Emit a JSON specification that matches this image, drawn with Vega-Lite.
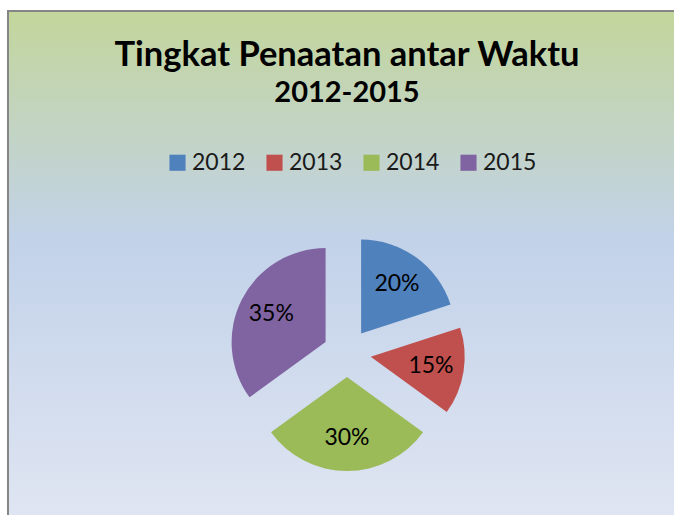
{
  "$schema": "https://vega.github.io/schema/vega-lite/v6.json",
  "width": 678,
  "height": 684,
  "padding": {"left": 8, "top": 11, "right": 0, "bottom": 0},
  "autosize": {"type": "none"},
  "background": "white",
  "title": {
    "text": "Tingkat Penaatan antar Waktu",
    "subtitle": "2012-2015",
    "anchor": "middle",
    "frame": "group",
    "offset": -99,
    "font": "Lato",
    "fontSize": 34.5,
    "fontWeight": "bold",
    "color": "#000000",
    "subtitleFont": "Lato",
    "subtitleFontSize": 29,
    "subtitleFontWeight": "bold",
    "subtitleColor": "#000000",
    "subtitlePadding": 6
  },
  "datasets": {
    "pie": [
      {"year": "2012", "pct": 20, "label": "20%"},
      {"year": "2013", "pct": 15, "label": "15%"},
      {"year": "2014", "pct": 30, "label": "30%"},
      {"year": "2015", "pct": 35, "label": "35%"}
    ],
    "bg": [{"name": "chart area"}]
  },
  "layer": [
    {
      "data": {"name": "bg"},
      "mark": {
        "type": "rect",
        "stroke": "#868686",
        "strokeWidth": 2,
        "fill": {
          "gradient": "linear",
          "x1": 0, "y1": 0, "x2": 0, "y2": 1,
          "stops": [
            {"offset": 0, "color": "#c3d69b"},
            {"offset": 0.335, "color": "#c2d2e9"},
            {"offset": 0.737, "color": "#dfe5f2"},
            {"offset": 1, "color": "#e8ecf6"}
          ]
        }
      },
      "encoding": {}
    },
    {
      "data": {"name": "pie"},
      "transform": [
        {"stack": "pct", "groupby": [], "as": ["p0", "p1"], "sort": [{"field": "year", "order": "ascending"}]},
        {"filter": "datum.year === '2012'"}
      ],
      "mark": {"type": "arc", "outerRadius": 94, "xOffset": 14.1, "yOffset": -19.4},
      "encoding": {
        "theta": {"field": "p0", "type": "quantitative", "stack": null, "scale": {"domain": [0, 100]}},
        "theta2": {"field": "p1"},
        "color": {"field": "year", "type": "nominal", "scale": {"domain": ["2012", "2013", "2014", "2015"], "range": ["#4f81bd", "#c0504d", "#9bbb59", "#8064a2"]}, "legend": {"title": null}}
      }
    },
    {
      "data": {"name": "pie"},
      "transform": [
        {"stack": "pct", "groupby": [], "as": ["p0", "p1"], "sort": [{"field": "year", "order": "ascending"}]},
        {"filter": "datum.year === '2013'"}
      ],
      "mark": {"type": "arc", "outerRadius": 94, "xOffset": 23.7, "yOffset": 3.8},
      "encoding": {
        "theta": {"field": "p0", "type": "quantitative", "stack": null, "scale": {"domain": [0, 100]}},
        "theta2": {"field": "p1"},
        "color": {"field": "year", "type": "nominal", "legend": {"title": null}}
      }
    },
    {
      "data": {"name": "pie"},
      "transform": [
        {"stack": "pct", "groupby": [], "as": ["p0", "p1"], "sort": [{"field": "year", "order": "ascending"}]},
        {"filter": "datum.year === '2014'"}
      ],
      "mark": {"type": "arc", "outerRadius": 94, "xOffset": 0, "yOffset": 24},
      "encoding": {
        "theta": {"field": "p0", "type": "quantitative", "stack": null, "scale": {"domain": [0, 100]}},
        "theta2": {"field": "p1"},
        "color": {"field": "year", "type": "nominal", "legend": {"title": null}}
      }
    },
    {
      "data": {"name": "pie"},
      "transform": [
        {"stack": "pct", "groupby": [], "as": ["p0", "p1"], "sort": [{"field": "year", "order": "ascending"}]},
        {"filter": "datum.year === '2015'"}
      ],
      "mark": {"type": "arc", "outerRadius": 94, "xOffset": -21.4, "yOffset": -10.9},
      "encoding": {
        "theta": {"field": "p0", "type": "quantitative", "stack": null, "scale": {"domain": [0, 100]}},
        "theta2": {"field": "p1"},
        "color": {"field": "year", "type": "nominal", "legend": {"title": null}}
      }
    },
    {
      "data": {"name": "pie"},
      "mark": {"type": "text", "radius": 85, "font": "Lato", "fontSize": 23, "fill": "#000000", "baseline": "middle", "align": "center"},
      "encoding": {
        "theta": {"field": "pct", "type": "quantitative", "stack": true, "scale": {"domain": [0, 100]}},
        "order": {"field": "year", "sort": "ascending"},
        "text": {"field": "label", "type": "nominal"}
      }
    }
  ],
  "config": {
    "view": {"stroke": null},
    "legend": {
      "orient": "none",
      "legendX": 158,
      "legendY": 140,
      "direction": "horizontal",
      "symbolType": "square",
      "symbolSize": 260,
      "symbolStrokeWidth": 0,
      "labelFont": "Lato",
      "labelFontSize": 23,
      "labelColor": "#1a1a1a",
      "labelOffset": 3,
      "columnPadding": 17
    }
  }
}
